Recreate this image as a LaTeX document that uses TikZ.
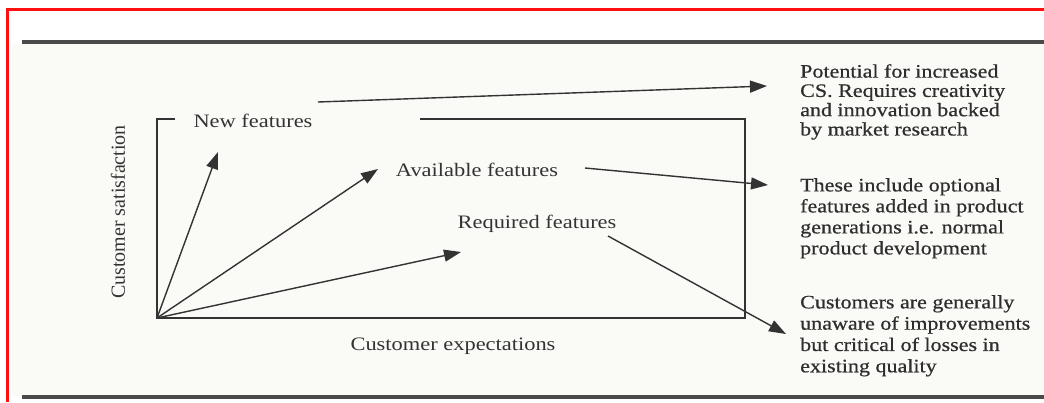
\documentclass[tikz,border=0pt]{standalone}
\usepackage{fontspec}
\setmainfont{Liberation Serif}[FakeStretch=1.18]
\newfontfamily\notefont{Liberation Serif}[FakeStretch=1.16, FakeBold=0.6]
\newfontfamily\axisfont{Liberation Serif}
\usetikzlibrary{arrows.meta}

\definecolor{ink}{HTML}{333333}
\definecolor{noteink}{HTML}{2E2E2E}
\definecolor{rulegray}{HTML}{4A4A4A}
\definecolor{framered}{HTML}{FF1010}
\definecolor{paper}{HTML}{FAFAF7}

\begin{document}
\begin{tikzpicture}[x=1pt,y=-1pt,
  conn/.style={draw=ink, line width=1.4pt, -{Triangle[length=17pt,width=12pt]}},
  axisline/.style={draw=ink, line width=1.4pt},
  lbl/.style={text=ink, font=\fontsize{19}{21}\selectfont, inner sep=0pt, anchor=base},
  note/.style={text=noteink, inner sep=0pt, align=left, anchor=north west},
]
\useasboundingbox (0,0) rectangle (1044,402);

% page frame and rules
\fill[paper] (12,44) rectangle (1044,396);
\draw[framered, line width=3pt] (7,402) -- (7,9.5) -- (1044,9.5);
\draw[rulegray, line width=3.5pt] (22,42) -- (1044,42);
\draw[rulegray, line width=3.5pt] (22,397) -- (1044,397);

% chart frame
\coordinate (O) at (157,318);
\draw[axisline] (175,119) -- (157,119) -- (O) -- (745,318) -- (745,119) -- (420,119);

% feature labels and axis titles
\node[lbl] (nf) at (253,127) {New features};
\node[lbl] (af) at (477,176) {Available features};
\node[lbl] (rf) at (537,228) {Required features};
\node[lbl] (ce) at (453,350) {Customer expectations};
\node[text=ink, inner sep=0pt, rotate=90, font=\axisfont\fontsize{20}{22}\selectfont]
  (cs) at (118,212) {Customer satisfaction};

% explanatory notes
\node[note, font=\notefont\fontsize{19}{19.3}\selectfont] (n1) at (800,64)
  {Potential for increased\\CS. Requires creativity\\and innovation backed\\by market research};
\node[note, font=\notefont\fontsize{19}{21}\selectfont] (n2) at (800,178)
  {These include optional\\features added in product\\generations i.e. normal\\product development};
\node[note, font=\notefont\fontsize{19}{21.3}\selectfont] (n3) at (800,295)
  {Customers are generally\\unaware of improvements\\but critical of losses in\\existing quality};

% growth vectors from the origin
\coordinate (t1) at (218,152);
\coordinate (t2) at (378,169);
\coordinate (t3) at (461,252);
\draw[conn] (O) -- (t1);
\draw[conn] (O) -- (t2);
\draw[conn] (O) -- (t3);

% pointers from each feature class to its note
\coordinate (nf-out) at (318,102);
\coordinate (af-out) at (585,168);
\coordinate (rf-out) at (608,236);
\coordinate (n1-in) at (767,86);
\coordinate (n2-in) at (768,185);
\coordinate (n3-in) at (786,334);
\draw[conn] (nf-out) -- (n1-in);
\draw[conn] (af-out) -- (n2-in);
\draw[conn] (rf-out) -- (n3-in);
\end{tikzpicture}
\end{document}
